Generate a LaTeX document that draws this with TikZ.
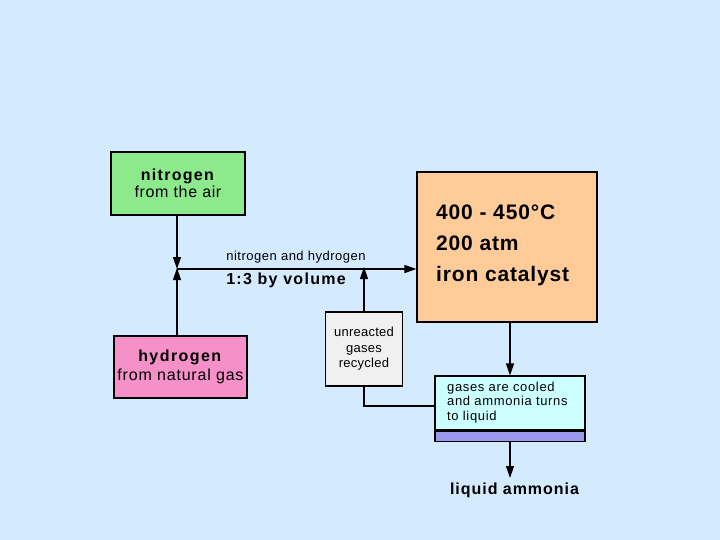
\documentclass[tikz,border=0pt]{standalone}
\usepackage{fontspec}
\setmainfont{Liberation Sans}
\usetikzlibrary{arrows.meta}
\definecolor{bg}{HTML}{D4EAFE}
\definecolor{ngreen}{HTML}{8CEA8C}
\definecolor{hpink}{HTML}{F590C8}
\definecolor{orng}{HTML}{FFCC99}
\definecolor{grey}{HTML}{F0F0F0}
\definecolor{cyan1}{HTML}{CCFFFF}
\definecolor{purp}{HTML}{9999EE}
\newcommand{\ls}[1]{\addfontfeature{LetterSpace=#1}}
\tikzset{
  box/.style={draw=black, line width=1.1pt, inner sep=0pt, align=center},
  conn/.style={line width=1.2pt},
  arr/.style={conn, -{Triangle[length=12pt,width=8pt]}},
  txt/.style={inner sep=0pt, align=left},
}
\begin{document}
\begin{tikzpicture}[x=1pt,y=-1pt]
\fill[bg] (0,0) rectangle (720,540);
\useasboundingbox (0,0) rectangle (720,540);
% nitrogen
\node[box, fill=ngreen, minimum width=134pt, minimum height=63pt,
      font=\fontsize{16}{17.5}\selectfont] (n2) at (178,183.5)
  {\textbf{\ls{8}nitrogen}\\{\ls{4}from the air}};
% hydrogen
\node[box, fill=hpink, minimum width=133pt, minimum height=62pt,
      font=\fontsize{16}{19}\selectfont] (h2) at (180.5,367)
  {\textbf{\ls{9}hydrogen}\\{\ls{5}from natural gas}};
% reactor
\node[box, fill=orng, minimum width=180pt, minimum height=150pt] (re) at (507,247) {};
\node[txt, anchor=west, font=\fontsize{21}{31}\selectfont\bfseries] (ret) at (436,245)
  {\ls{4}400 - 450°C\\\ls{4}200 atm\\\ls{4}iron catalyst};
% recycled
\node[box, fill=grey, minimum width=77pt, minimum height=74pt,
      font=\fontsize{13}{15.5}\selectfont] (rc) at (364,349)
  {\ls{2}unreacted\\\ls{2}gases\\\ls{2}recycled};
% cooler
\node[box, fill=cyan1, minimum width=150pt, minimum height=54pt] (co) at (510,403) {};
\node[txt, anchor=north west, font=\fontsize{13}{14.5}\selectfont] (cot) at (447,381.5)
  {\ls{5}gases are cooled\\\ls{5}and ammonia turns\\\ls{5}to liquid};
\node[draw=black, line width=1.1pt, fill=purp, minimum width=150pt, minimum height=10pt,
      inner sep=0pt, anchor=north] (band) at (co.south) {};
% liquid ammonia
\node[inner sep=0pt, font=\fontsize{16}{18}\selectfont\bfseries] (la) at (514.5,490) {\ls{6}liquid ammonia};
% junction
\coordinate (j) at (177,269);
\coordinate (jr) at (364,269);
\draw[arr] (n2.south -| j) -- (j);
\draw[arr] (h2.north -| j) -- ([yshift=1pt]j);
\draw[arr] (j) -- (j -| re.west);
\draw[arr] (rc.north) -- ([yshift=2pt]jr);
\coordinate (rb) at (364,406);
\draw[conn] (rc.south) -- (rb) -- (rb -| co.west);
\coordinate (ca) at (510,0);
\draw[arr] (re.south -| ca) -- (co.north -| ca);
\coordinate (lb) at (510,478);
\draw[arr] (band.south -| ca) -- (lb);
% labels
\node[inner sep=0pt, font=\fontsize{13}{15}\selectfont] (l1) at (296,257) {\ls{4}nitrogen and hydrogen};
\node[inner sep=0pt, font=\fontsize{16}{18}\selectfont\bfseries] (l2) at (286,280) {\ls{8}1:3 by volume};
\end{tikzpicture}
\end{document}
